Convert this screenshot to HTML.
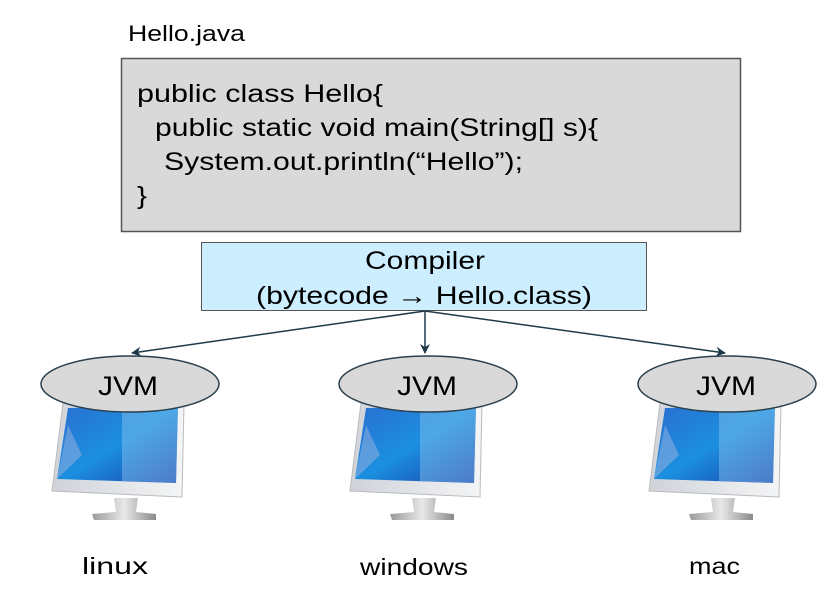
<!DOCTYPE html>
<html><head><style>
body{margin:0;background:#fff;width:833px;height:596px;overflow:hidden}
svg{display:block}
text{font-family:"Liberation Sans",Arial,sans-serif}
</style></head><body>
<svg width="833" height="596" viewBox="0 0 833 596">
<defs>
<linearGradient id="scr" x1="0" y1="0" x2="1" y2="1">
<stop offset="0" stop-color="#2a6fd0"/><stop offset="0.5" stop-color="#1b8fe0"/><stop offset="1" stop-color="#1a3ea8"/>
</linearGradient>
<linearGradient id="frm" x1="0" y1="0" x2="1" y2="0">
<stop offset="0" stop-color="#cfd3d8"/><stop offset="1" stop-color="#f4f5f6"/>
</linearGradient>
<linearGradient id="std" x1="0" y1="0" x2="1" y2="0">
<stop offset="0" stop-color="#9a9a9a"/><stop offset="0.5" stop-color="#e8e8e8"/><stop offset="1" stop-color="#8a8a8a"/>
</linearGradient>
<g id="mon">
<path d="M-22,498 L-16,498 L-14,512 L-38,514 L-36,520 L26,520 L26,514 L6,512 L8,498 Z" fill="url(#std)"/>
<path d="M-67,403 L54,403 L52,497 L-78,491 Z" fill="url(#frm)" stroke="#bbb" stroke-width="1"/>
<path d="M-62,408 L48,406 L46,483 L-73,479 Z" fill="url(#scr)"/>
<path d="M-8,407 L48,406 L46,483 L-8,481 Z" fill="#8cc6ee" opacity="0.45"/>
<path d="M-62,425 L-48,455 L-73,479 Z" fill="#9ab4e0" opacity="0.5"/>
</g>
<marker id="ah" markerWidth="10" markerHeight="10" refX="9" refY="5" orient="auto" markerUnits="userSpaceOnUse">
<path d="M0,0 L10,5 L0,10 L3,5 Z" fill="#1f3a4a"/>
</marker>
</defs>
<text x="128" y="41" font-size="22" textLength="117" lengthAdjust="spacingAndGlyphs">Hello.java</text>
<rect x="121.5" y="58.5" width="619" height="173" fill="#d9d9d9" stroke="#555" stroke-width="1.5"/>
<g font-size="25">
<text x="137" y="102" textLength="246" lengthAdjust="spacingAndGlyphs">public class Hello{</text>
<text x="155" y="136" textLength="443" lengthAdjust="spacingAndGlyphs">public static void main(String[] s){</text>
<text x="164" y="170" textLength="359" lengthAdjust="spacingAndGlyphs">System.out.println(“Hello”);</text>
<text x="137" y="204" textLength="10" lengthAdjust="spacingAndGlyphs">}</text>
</g>
<rect x="201.5" y="242.5" width="445" height="68" fill="#cdeefe" stroke="#555" stroke-width="1"/>
<text x="365" y="269" font-size="25" textLength="120" lengthAdjust="spacingAndGlyphs">Compiler</text>
<text x="256" y="304" font-size="25" textLength="336" lengthAdjust="spacingAndGlyphs">(bytecode → Hello.class)</text>
<g stroke="#1f3a4a" stroke-width="1.5" fill="none">
<line x1="425" y1="311" x2="132" y2="353" marker-end="url(#ah)"/>
<line x1="425" y1="311" x2="425" y2="353" marker-end="url(#ah)"/>
<line x1="425" y1="311" x2="725" y2="353" marker-end="url(#ah)"/>
</g>
<use href="#mon" x="130" y="0"/>
<use href="#mon" x="428" y="0"/>
<use href="#mon" x="727" y="0"/>
<g fill="#d9d9d9" stroke="#2a3f4c" stroke-width="1.5">
<ellipse cx="130" cy="384" rx="89" ry="28"/>
<ellipse cx="428" cy="384" rx="89" ry="28"/>
<ellipse cx="727" cy="384" rx="89" ry="28"/>
</g>
<g font-size="27">
<text x="98" y="395" textLength="60" lengthAdjust="spacingAndGlyphs">JVM</text>
<text x="397" y="395" textLength="60" lengthAdjust="spacingAndGlyphs">JVM</text>
<text x="696" y="395" textLength="60" lengthAdjust="spacingAndGlyphs">JVM</text>
</g>
<g font-size="23">
<text x="82" y="574" textLength="66" lengthAdjust="spacingAndGlyphs">linux</text>
<text x="360" y="575" textLength="108" lengthAdjust="spacingAndGlyphs">windows</text>
<text x="689" y="574" textLength="51" lengthAdjust="spacingAndGlyphs">mac</text>
</g>
</svg>
</body></html>
